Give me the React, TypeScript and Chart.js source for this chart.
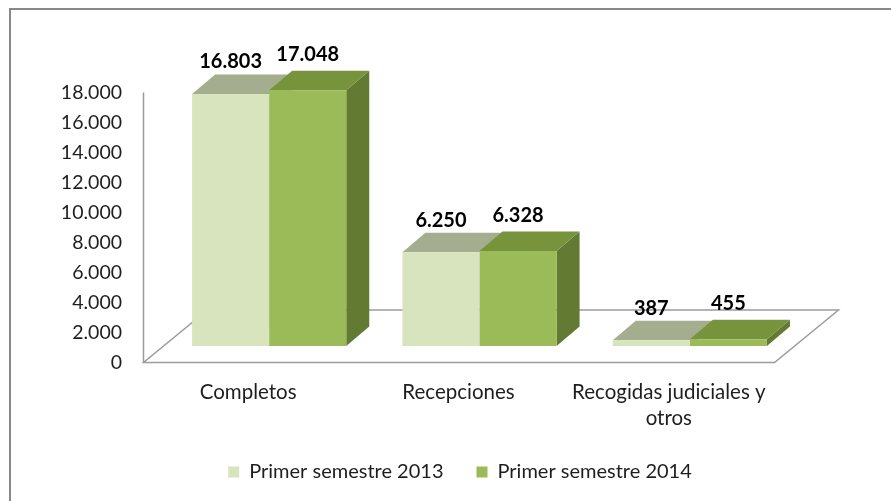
import React, { useEffect, useRef } from 'react';
import { Chart, registerables } from 'chart.js';

Chart.register(...registerables);

// ---- data ----
const categories: string[][] = [['Completos'], ['Recepciones'], ['Recogidas judiciales y', 'otros']];
const seriesNames: string[] = ['Primer semestre 2013', 'Primer semestre 2014'];
const values2013: number[] = [16803, 6250, 387];
const values2014: number[] = [17048, 6328, 455];
const yMin = 0;
const yMax = 18000;
const yStep = 2000;

// ---- styles ----
const FRONT = ['#D7E4BD', '#9BBB59'];
const TOP = ['#A4AE8E', '#77933C'];
const SIDE = ['#B5C299', '#637A33'];
const LABEL_LIFT = [32, 36];
const DEPTH = { dx: 23, dy: -19.5 };
const GAP = { dx: 20.5, dy: -16.5 };
const FONT = 'Lato, "Open Sans", sans-serif';
const TEXT = '#1e1e1e';
const LINE = '#9C9C9C';
const AREA_BOTTOM = 346;
const PAD_BOTTOM = 9;
const LEGEND_CENTER_X = 460;

const fmt = (v: number) => String(Math.round(v)).replace(/\B(?=(\d{3})+(?!\d))/g, '.');

const threeD = {
  id: 'threeD',
  afterLayout(chart: any) {
    const lg = chart.legend;
    if (lg) {
      const shift = LEGEND_CENTER_X - (lg.left + lg.right) / 2;
      lg.left += shift;
      lg.right += shift;
    }
  },
  beforeDraw(chart: any) {
    const ctx = chart.ctx;
    ctx.save();
    ctx.strokeStyle = '#888888';
    ctx.lineWidth = 2;
    ctx.beginPath();
    ctx.moveTo(10, chart.height);
    ctx.lineTo(10, 9);
    ctx.lineTo(chart.width, 9);
    ctx.stroke();
    ctx.restore();
  },
  beforeDatasetsDraw(chart: any) {
    const { ctx, chartArea, scales } = chart;
    const y = scales.y;
    const base = y.getPixelForValue(0);
    const fx0 = chartArea.left - GAP.dx;
    const fx1 = chartArea.right - GAP.dx;
    const fy = base - GAP.dy;
    const tdx = 2 * GAP.dx + DEPTH.dx;
    const tdy = 2 * GAP.dy + DEPTH.dy;
    ctx.save();
    ctx.strokeStyle = LINE;
    ctx.lineWidth = 1.5;
    ctx.beginPath();
    ctx.moveTo(fx0, fy);
    ctx.lineTo(fx1, fy);
    ctx.lineTo(fx1 + tdx, fy + tdy);
    ctx.lineTo(fx0 + tdx, fy + tdy);
    ctx.closePath();
    ctx.stroke();
    ctx.beginPath();
    ctx.moveTo(fx0, fy);
    ctx.lineTo(fx0, y.getPixelForValue(yMax) - GAP.dy);
    ctx.stroke();
    chart.data.datasets.forEach((_ds: any, di: number) => {
      const meta = chart.getDatasetMeta(di);
      meta.data.forEach((el: any) => {
        const p = el.getProps(['x', 'y', 'base', 'width'], true);
        const l = p.x - p.width / 2;
        const r = p.x + p.width / 2;
        ctx.fillStyle = SIDE[di];
        ctx.beginPath();
        ctx.moveTo(r, p.y);
        ctx.lineTo(r + DEPTH.dx, p.y + DEPTH.dy);
        ctx.lineTo(r + DEPTH.dx, p.base + DEPTH.dy);
        ctx.lineTo(r, p.base);
        ctx.closePath();
        ctx.fill();
        ctx.fillStyle = TOP[di];
        ctx.beginPath();
        ctx.moveTo(l, p.y);
        ctx.lineTo(r, p.y);
        ctx.lineTo(r + DEPTH.dx, p.y + DEPTH.dy);
        ctx.lineTo(l + DEPTH.dx, p.y + DEPTH.dy);
        ctx.closePath();
        ctx.fill();
      });
    });
    ctx.restore();
  },
  afterDatasetsDraw(chart: any) {
    const ctx = chart.ctx;
    ctx.save();
    ctx.font = `bold 20px ${FONT}`;
    ctx.fillStyle = '#000000';
    ctx.textAlign = 'center';
    ctx.textBaseline = 'middle';
    chart.data.datasets.forEach((ds: any, di: number) => {
      const meta = chart.getDatasetMeta(di);
      meta.data.forEach((el: any, i: number) => {
        const p = el.getProps(['x', 'y'], true);
        ctx.fillText(fmt(ds.data[i]), p.x, p.y - LABEL_LIFT[di]);
      });
    });
    ctx.restore();
  },
};

export default function App() {
  const ref = useRef<HTMLCanvasElement | null>(null);
  useEffect(() => {
    if (!ref.current) return;
    const chart = new Chart(ref.current, {
      type: 'bar',
      data: {
        labels: categories,
        datasets: [
          { label: seriesNames[0], data: values2013, backgroundColor: FRONT[0], borderWidth: 0, barPercentage: 1, categoryPercentage: 0.733 },
          { label: seriesNames[1], data: values2014, backgroundColor: FRONT[1], borderWidth: 0, barPercentage: 1, categoryPercentage: 0.733 },
        ],
      },
      options: {
        responsive: false,
        animation: false,
        events: [],
        layout: { padding: { left: 0, right: 96, top: 76, bottom: PAD_BOTTOM } },
        plugins: {
          legend: {
            position: 'bottom',
            labels: { boxWidth: 11, boxHeight: 11, padding: 33, color: TEXT, font: { family: FONT, size: 20 } },
          },
          tooltip: { enabled: false },
        },
        scales: {
          x: {
            grid: { display: false, drawTicks: false },
            border: { display: false },
            ticks: { labelOffset: -21, padding: 33, color: TEXT, autoSkip: false, maxRotation: 0, font: { family: FONT, size: 20.5, lineHeight: 26 / 20.5 } },
            afterFit: (s: any) => {
              const lh = s.chart.legend ? s.chart.legend.height : 0;
              s.height = s.chart.height - PAD_BOTTOM - lh - AREA_BOTTOM;
            },
          },
          y: {
            min: yMin,
            max: yMax,
            grid: { display: false, drawTicks: false },
            border: { display: false },
            ticks: { stepSize: yStep, padding: 42, labelOffset: 16.5, color: TEXT, font: { family: FONT, size: 19.5 }, callback: (v: any) => fmt(Number(v)) },
            afterFit: (s: any) => { s.width = 164; },
          },
        },
      },
      plugins: [threeD],
    });
    return () => chart.destroy();
  }, []);
  return (
    <div style={{ position: 'absolute', left: 0, top: 0, width: 891, height: 501 }}>
      <canvas ref={ref} width={891} height={501} style={{ width: 891, height: 501, display: 'block' }} />
    </div>
  );
}
